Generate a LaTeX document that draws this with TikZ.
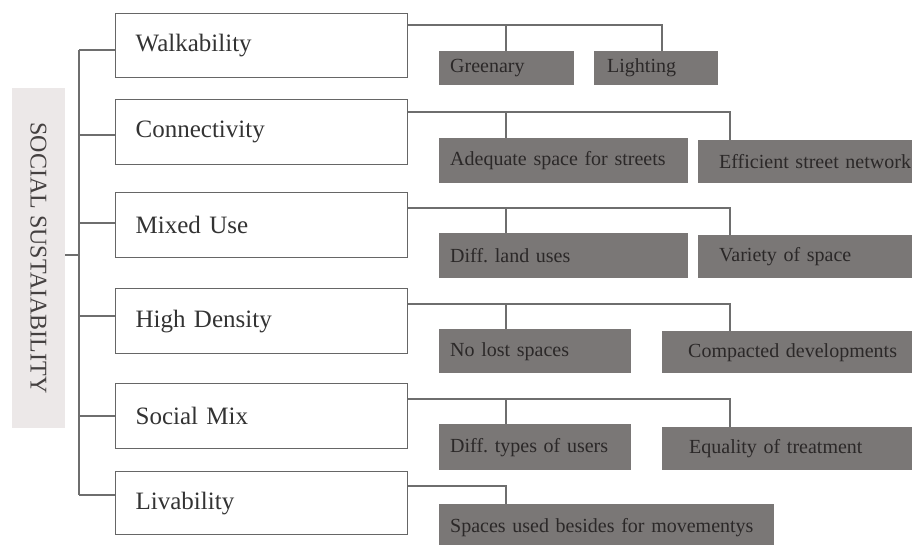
\documentclass[tikz,border=0pt]{standalone}
\usepackage{fontspec}
\setmainfont{Liberation Serif}
\usetikzlibrary{calc}
\definecolor{linec}{HTML}{6E6E6E}
\definecolor{boxline}{HTML}{666666}
\definecolor{gfill}{HTML}{7A7776}
\definecolor{gtext}{HTML}{2B2828}
\definecolor{sfill}{HTML}{ECE8E8}
\definecolor{stext}{HTML}{444040}
\definecolor{ttext}{HTML}{333333}
\tikzset{
  conn/.style={draw=linec, line width=1.3pt},
  tbox/.style={draw=boxline, line width=1.3pt, fill=white, anchor=north west,
    inner xsep=20pt, inner ysep=0pt, text width=252pt, align=left,
    font=\fontsize{25}{28}\selectfont, text=ttext},
  gbox/.style={fill=gfill, draw=none, inner ysep=0pt, align=left,
    font=\fontsize{20}{23}\selectfont, text=gtext},
  sbox/.style={fill=sfill, draw=none, rotate=-90, minimum width=340pt,
    minimum height=53pt, inner sep=0pt, font=\fontsize{24}{28}\selectfont, text=stext}
}
\newcommand\graybox[7]{%
  \pgfmathsetmacro\gbw{#4-#2-2*#6}%
  \pgfmathsetmacro\gbh{#5-#3}%
  \node[gbox, inner xsep=#6pt, text width=\gbw pt, minimum height=\gbh pt, anchor=north west] (#1) at (#2,#3) {\mbox{#7}};}
\frenchspacing
\begin{document}
\begin{tikzpicture}[x=1pt, y=-1pt]
\useasboundingbox (0,0) rectangle (912,545);
\clip (0,0) rectangle (912,545);
% social box
\node[sbox] (soc) at (38.5,258) {SOCIAL SUSTAIABILITY};
% title boxes
\node[tbox, minimum height=64pt] (w) at (115,13) {Walkability};
\node[tbox, minimum height=65pt] (c) at (115,99) {Connectivity};
\node[tbox, minimum height=65pt] (m) at (115,192) {Mixed Use};
\node[tbox, minimum height=65pt] (h) at (115,288) {High Density};
\node[tbox, minimum height=65pt] (s) at (115,383) {Social Mix};
\node[tbox, minimum height=63pt] (l) at (115,471) {Livability};
% gray boxes
\graybox{gr}{439}{51}{574}{85}{11}{Greenary}
\graybox{li}{594}{51}{718}{85}{13}{Lighting}
\graybox{ad}{439}{138}{688}{183}{11}{Adequate space for streets}
\graybox{ef}{698}{140}{912}{183}{21}{Efficient street network}
\graybox{dl}{439}{233}{688}{278}{11}{Diff.\ land uses}
\graybox{va}{698}{235}{912}{278}{21}{Variety of space}
\graybox{nl}{439}{329}{631}{373}{11}{No lost spaces}
\graybox{co}{662}{331}{912}{373}{26}{Compacted developments}
\graybox{dt}{439}{424}{631}{470}{11}{Diff.\ types of users}
\graybox{eq}{662}{427}{912}{470}{27}{Equality of treatment}
\graybox{sp}{439}{504}{774}{550}{11}{Spaces used besides for movementys}
% trunk
\coordinate (t1) at (79,50);
\coordinate (t2) at (79,135);
\coordinate (t3) at (79,223);
\coordinate (t4) at (79,316);
\coordinate (t5) at (79,416);
\coordinate (t6) at (79,495);
\coordinate (ts) at (79,255);
\draw[conn] (t1) -- (t6);
\draw[conn] (t1) -- (w.west |- t1);
\draw[conn] (t2) -- (c.west |- t2);
\draw[conn] (t3) -- (m.west |- t3);
\draw[conn] (t4) -- (h.west |- t4);
\draw[conn] (t5) -- (s.west |- t5);
\draw[conn] (t6) -- (l.west |- t6);
\draw[conn] (soc.north |- ts) -- (ts);
% right connectors
\coordinate (wa) at (506,25);  \coordinate (wb) at (662,25);
\draw[conn] (w.east |- wb) -- (wb) -- (li.north -| wb);
\draw[conn] (wa) -- (gr.north -| wa);
\coordinate (ca) at (506,112); \coordinate (cb) at (730,112);
\draw[conn] (c.east |- cb) -- (cb) -- (ef.north -| cb);
\draw[conn] (ca) -- (ad.north -| ca);
\coordinate (ma) at (506,208); \coordinate (mb) at (730,208);
\draw[conn] (m.east |- mb) -- (mb) -- (va.north -| mb);
\draw[conn] (ma) -- (dl.north -| ma);
\coordinate (ha) at (506,304); \coordinate (hb) at (730,304);
\draw[conn] (h.east |- hb) -- (hb) -- (co.north -| hb);
\draw[conn] (ha) -- (nl.north -| ha);
\coordinate (sa) at (506,399); \coordinate (sb) at (730,399);
\draw[conn] (s.east |- sb) -- (sb) -- (eq.north -| sb);
\draw[conn] (sa) -- (dt.north -| sa);
\coordinate (la) at (506,486);
\draw[conn] (l.east |- la) -- (la) -- (sp.north -| la);
\end{tikzpicture}
\end{document}
